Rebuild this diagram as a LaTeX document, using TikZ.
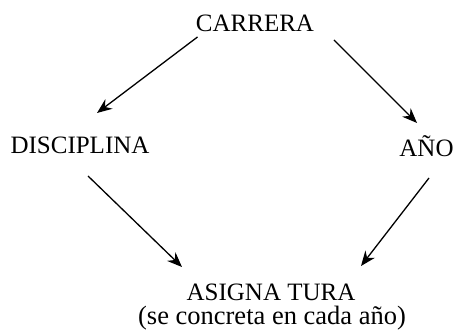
\documentclass[tikz,border=0pt]{standalone}
\usepackage{fontspec}
\setmainfont{Liberation Serif}
\usepackage{tikz}
\usetikzlibrary{arrows.meta}

\tikzset{
	term/.style={inner sep=0pt, anchor=base, font=\fontsize{25}{27}\selectfont},
	note/.style={inner sep=0pt, anchor=base, font=\fontsize{26.5}{28}\selectfont},
	arr/.style={-{Stealth[length=15pt,width=12pt,inset=5pt]}, line width=1.3pt}
}

\begin{document}
\begin{tikzpicture}[x=1pt,y=1pt]
	\useasboundingbox (0,0) rectangle (455,331);
	\node[term] at (255,299) (car) {CARRERA};
	\node[term] at (80,177) (dis) {DISCIPLINA};
	\node[term] at (426.5,174) (ano) {AÑO};
	\node[term] at (271,30) (asig) {ASIGNA TURA};
	\node[note] at (272,6) (conc) {(se concreta en cada año)};
	
	\draw[arr] ([shift={(-57.5,-5)}]car.base) -- ([shift={(17,41)}]dis.base);
	\draw[arr] ([shift={(79,-8)}]car.base) -- ([shift={(-9.5,34)}]ano.base);
	\draw[arr] ([shift={(8,-22)}]dis.base) -- ([shift={(-89,34)}]asig.base);
	\draw[arr] ([shift={(2.5,-21)}]ano.base) -- ([shift={(90,35)}]asig.base);
\end{tikzpicture}
\end{document}
